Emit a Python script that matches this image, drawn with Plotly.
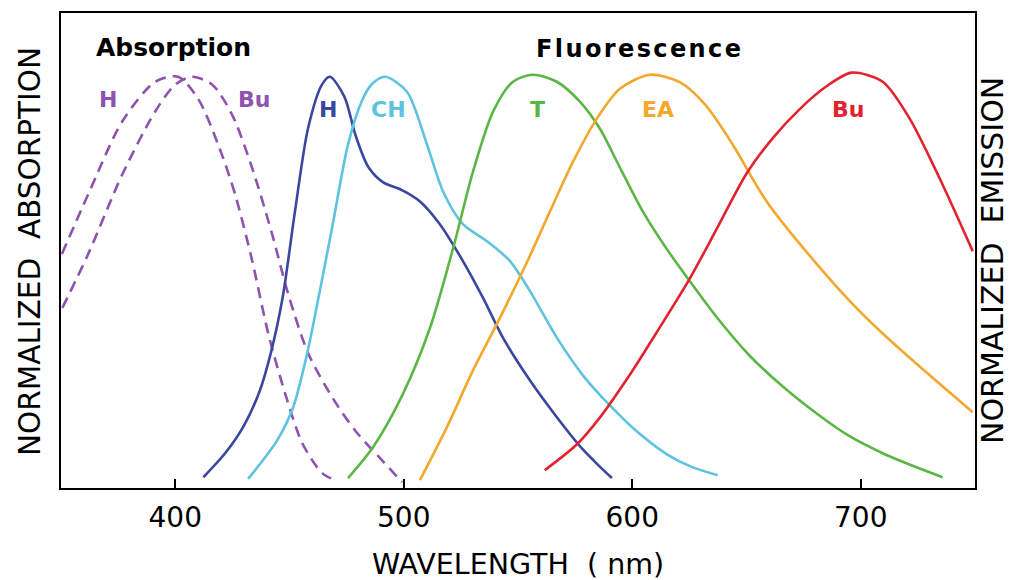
import plotly.graph_objects as go

# ---- data (wavelength nm, normalized intensity) ----
abs_h_x = [350.4, 361.9, 376.8, 391.2, 401.3, 410.0, 418.8, 426.2, 433.7, 440.7, 448.1, 455.6, 464.3, 470.0]
abs_h_y = [0.565, 0.709, 0.885, 0.981, 0.993, 0.940, 0.829, 0.709, 0.548, 0.373, 0.228, 0.108, 0.036, 0.019]

abs_bu_x = [350.6, 361.9, 376.8, 391.2, 400.0, 407.4, 416.2, 424.9, 433.7, 442.4, 449.4, 458.2, 468.7, 478.7, 490.5, 499.3]
abs_bu_y = [0.435, 0.565, 0.757, 0.909, 0.974, 0.993, 0.974, 0.901, 0.772, 0.613, 0.469, 0.325, 0.219, 0.139, 0.067, 0.014]

fl_h_x = [412.3, 422.0, 430.0, 437.0, 442.0, 447.0, 452.4, 458.1, 464.2, 467.7, 474.0, 479.0, 484.5, 491.0, 499.0,
          507.1, 515.8, 525.9, 534.7, 543.4, 555.2, 567.0, 578.4, 585.0, 591.1]
fl_h_y = [0.026, 0.085, 0.150, 0.235, 0.330, 0.460, 0.668, 0.868, 0.974, 0.993, 0.945, 0.850, 0.775, 0.738, 0.720,
          0.692, 0.637, 0.548, 0.459, 0.363, 0.260, 0.171, 0.093, 0.056, 0.024]

fl_ch_x = [431.9, 444.6, 451.6, 457.7, 462.0, 468.6, 475.6, 481.7, 486.0, 491.8, 501.4, 510.2, 517.2, 525.9, 536.4,
           546.5, 555.2, 567.0, 578.4, 585.8, 593.2, 600.3, 615.0, 626.0, 637.4]
fl_ch_y = [0.022, 0.115, 0.195, 0.324, 0.440, 0.627, 0.829, 0.935, 0.975, 0.993, 0.957, 0.829, 0.716, 0.637, 0.596,
           0.548, 0.476, 0.363, 0.272, 0.225, 0.183, 0.145, 0.082, 0.051, 0.031]

fl_t_x = [475.6, 486.6, 499.7, 511.5, 521.6, 530.3, 539.1, 547.8, 556.6, 567.0, 577.1, 585.8, 594.5, 604.6,
          615.0, 625.1, 636.9, 651.3, 665.9, 680.7, 695.1, 709.6, 724.4, 735.8]
fl_t_y = [0.024, 0.099, 0.228, 0.387, 0.579, 0.764, 0.909, 0.981, 0.998, 0.981, 0.933, 0.868, 0.775, 0.668,
          0.578, 0.500, 0.413, 0.320, 0.245, 0.180, 0.125, 0.084, 0.050, 0.026]

fl_ea_x = [507.1, 518.9, 530.3, 542.1, 553.9, 564.0, 574.1, 584.5, 594.6, 607.7, 620.8, 632.0, 644.0,
           658.8, 680.7, 695.1, 709.6, 724.4, 749.0]
fl_ea_y = [0.019, 0.147, 0.284, 0.411, 0.545, 0.668, 0.788, 0.892, 0.964, 0.998, 0.980, 0.925, 0.829,
           0.692, 0.541, 0.452, 0.373, 0.300, 0.183]

fl_bu_x = [561.7, 575.7, 585.8, 600.3, 610.6, 625.1, 636.9, 650.1, 661.5, 673.3, 685.0, 696.0,
           709.6, 721.4, 734.5, 749.0]
fl_bu_y = [0.043, 0.105, 0.170, 0.285, 0.375, 0.505, 0.625, 0.760, 0.845, 0.915, 0.970, 1.003,
           0.981, 0.892, 0.748, 0.572]

x_ticks = [400, 500, 600, 700]
x_tick_labels = ["400", "500", "600", "700"]

curve_labels = ["H", "Bu", "H", "CH", "T", "EA", "Bu"]

# ---- styling ----
PURPLE = "#8e52b0"
DBLUE = "#3b479e"
CYAN = "#5ec3df"
GREEN = "#5cb646"
ORANGE = "#f3a72c"
RED = "#e3222f"

series = [
    (abs_h_x, abs_h_y, PURPLE, "11px,7px"),
    (abs_bu_x, abs_bu_y, PURPLE, "11px,7px"),
    (fl_h_x, fl_h_y, DBLUE, "solid"),
    (fl_ch_x, fl_ch_y, CYAN, "solid"),
    (fl_t_x, fl_t_y, GREEN, "solid"),
    (fl_ea_x, fl_ea_y, ORANGE, "solid"),
    (fl_bu_x, fl_bu_y, RED, "solid"),
]

fig = go.Figure()
for xs, ys, col, dash in series:
    fig.add_trace(go.Scatter(
        x=xs, y=ys, mode="lines",
        line=dict(color=col, width=2.6, dash=dash, shape="spline", smoothing=0.8),
        showlegend=False, hoverinfo="skip",
    ))

FONT = "DejaVu Sans"
label_pos = [(108, 98), (254, 98), (328, 108), (388, 108), (537, 108), (658, 108), (848, 108)]
label_cols = [PURPLE, PURPLE, DBLUE, CYAN, GREEN, ORANGE, RED]

L, R, T, B = 61, 35, 11, 92
W, H = 1010, 580
pw, ph = W - L - R, H - T - B


def px2paper(px, py):
    return (px - L) / pw, (H - B - py) / ph


annotations = []
for txt, (px, py), col in zip(curve_labels, label_pos, label_cols):
    ax, ay = px2paper(px, py)
    annotations.append(dict(text=f"<b>{txt}</b>", x=ax, y=ay, xref="paper", yref="paper",
                            showarrow=False, xanchor="center", yanchor="middle",
                            font=dict(family=FONT, size=22, color=col)))

hs = "\u200a"
ax, ay = px2paper(173, 46)
annotations.append(dict(text="<b>Absorption</b>", x=ax, y=ay, xref="paper", yref="paper",
                        showarrow=False, xanchor="center", yanchor="middle",
                        font=dict(family=FONT, size=25, color="black")))
ax, ay = px2paper(638, 47)
annotations.append(dict(text="<b>" + hs.join("Fluorescence") + "</b>", x=ax, y=ay, xref="paper", yref="paper",
                        showarrow=False, xanchor="center", yanchor="middle",
                        font=dict(family=FONT, size=24, color="black")))

ax, ay = px2paper(30, 251)
annotations.append(dict(text="NORMALIZED  ABSORPTION", x=ax, y=ay, xref="paper", yref="paper",
                        showarrow=False, textangle=-90, xanchor="center", yanchor="middle",
                        font=dict(family=FONT, size=29.5, color="black")))
ax, ay = px2paper(993, 259)
annotations.append(dict(text="NORMALIZED  EMISSION", x=ax, y=ay, xref="paper", yref="paper",
                        showarrow=False, textangle=-90, xanchor="center", yanchor="middle",
                        font=dict(family=FONT, size=30, color="black")))
ax, ay = px2paper(518, 565)
annotations.append(dict(text="WAVELENGTH  ( nm)", x=ax, y=ay, xref="paper", yref="paper",
                        showarrow=False, xanchor="center", yanchor="middle",
                        font=dict(family=FONT, size=28.5, color="black")))

fig.update_layout(
    width=W, height=H,
    margin=dict(l=L, r=R, t=T, b=B, pad=0),
    paper_bgcolor="white", plot_bgcolor="white",
    annotations=annotations,
    xaxis=dict(range=[350, 750], tickvals=x_ticks, ticktext=x_tick_labels,
               ticks="inside", ticklen=9, tickwidth=2, tickcolor="black",
               showline=True, linecolor="black", linewidth=2, mirror=True,
               showgrid=False, zeroline=False, ticklabelstandoff=3,
               tickfont=dict(family=FONT, size=28, color="black")),
    yaxis=dict(range=[0, 1.147], showticklabels=False, ticks="",
               showline=True, linecolor="black", linewidth=2, mirror=True,
               showgrid=False, zeroline=False),
)

fig.write_html("out.html")
